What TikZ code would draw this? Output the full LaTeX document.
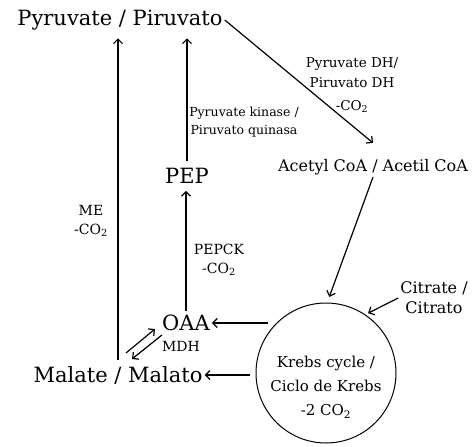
\documentclass[tikz,border=0pt]{standalone}
\usepackage{fontspec}
\setmainfont{DejaVu Serif}
\usepackage{tikz}
\usetikzlibrary{arrows.meta,positioning,calc}
\newcommand{\cotwo}{-CO\textsubscript{2}}

\begin{document}
\begin{tikzpicture}[
  x=1pt, y=1pt,
  big/.style={font=\fontsize{21}{24}\selectfont, inner sep=2pt},
  mid/.style={font=\fontsize{16}{20}\selectfont, align=center, inner sep=2pt},
  enz/.style={font=\fontsize{14}{19}\selectfont, align=center, inner sep=1pt},
  tiny/.style={font=\fontsize{12.5}{18}\selectfont, align=center, inner sep=1pt},
  cyc/.style={draw, circle, line width=1pt, minimum size=140pt, inner sep=0pt},
  flow/.style={-{Straight Barb[length=4.5pt,width=9pt,line width=1.2pt]}, line width=1.2pt},
]
\useasboundingbox (0,0) rectangle (474,-447);

%============================ METABOLITES ============================
\node[big]  (pyr)    at (120,-20)  {Pyruvate / Piruvato};
\node[big]  (pep)    at (187,-176) {PEP};
\node[big]  (oaa)    at (186,-323) {OAA};
\node[big]  (malate) at (118,-375) {Malate / Malato};
\node[mid]  (acetyl) at (373,-167) {Acetyl CoA / Acetil CoA};
\node[mid]  (citrate) at (434,-298) {Citrate /\\Citrato};

% Krebs cycle
\node[cyc] (krebs) at (326,-373) {};
\node[mid, font=\fontsize{15}{24}\selectfont] (krebstxt) at (326,-387)
  {Krebs cycle /\\Ciclo de Krebs\\-2 CO\textsubscript{2}};

%============================ ENZYMES ============================
\node[enz, font=\fontsize{13.5}{20}\selectfont] (pdh) at (352,-85)
  {Pyruvate DH/\\Piruvato DH\\[3pt]\cotwo};
\node[tiny] (pk)   at (244,-122) {Pyruvate kinase /\\Piruvato quinasa};
\node[enz] (me)    at (91,-221)  {ME\\\cotwo};
\node[enz] (pepck) at (219,-260) {PEPCK\\\cotwo};
\node[enz] (mdh)   at (181,-346) {MDH};

%============================ ARROWS ============================
\draw[flow] (pyr.east) -- ([yshift=14pt]acetyl.north);
\draw[flow, shorten <=5pt, shorten >=6pt] (pep.north) -- (pep.north |- pyr.south);
\draw[flow, shorten <=2pt, shorten >=5pt] (oaa.north) -- (oaa.north |- pep.south);
\draw[flow, shorten <=4pt, shorten >=6pt] (malate.north) -- (malate.north |- pyr.south);
\draw[flow, shorten >=6pt] (acetyl.south) -- (krebs.89);
\draw[flow, shorten >=3pt] (citrate.west) -- (krebs.56);
\draw[flow, shorten <=9pt] (oaa.east -| krebs.134) -- (oaa.east);
\draw[flow, shorten <=6pt] (malate.east -| krebs.west) -- (malate.east);

% MDH equilibrium
\coordinate (mdhA) at (126,-353);
\coordinate (mdhB) at (155,-329);
\coordinate (mdhC) at (162,-335);
\coordinate (mdhD) at (132,-359);
\draw[flow] (mdhA) -- (mdhB);
\draw[flow] (mdhC) -- (mdhD);

\end{tikzpicture}
\end{document}
